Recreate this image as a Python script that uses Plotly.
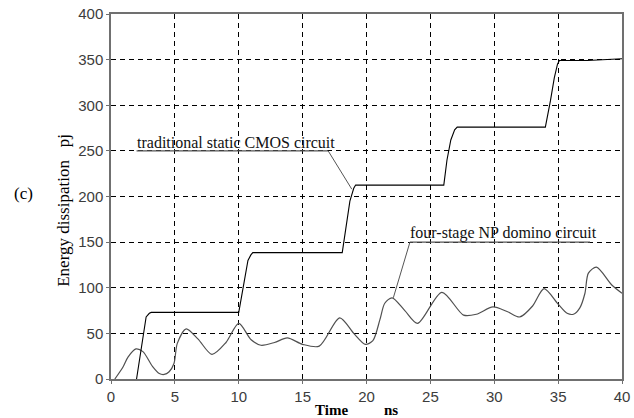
import plotly.graph_objects as go

# Time axis in ns, energy in pJ
cmos_t = [2.0, 2.4, 2.75, 3.0, 3.15, 10.0, 10.33, 10.72, 10.95, 11.1,
          18.1, 18.4, 18.7, 19.0, 19.15, 26.05, 26.3, 26.6, 26.9, 27.1,
          34.0, 34.4, 34.7, 34.95, 35.1, 37.3, 40.0]
cmos_e = [0, 35, 68, 72, 73, 73, 101, 130, 136, 138.5,
          138.5, 165, 195, 209, 212.5, 212.5, 240, 262, 273, 276,
          276, 305, 330, 345, 349, 349, 351]

domino_t = [0.3, 0.95, 1.33, 1.95, 2.5, 3.26, 3.78, 4.16, 4.55, 4.93, 5.19, 5.88,
            6.8, 7.9, 9.0, 10.0, 10.97, 11.74, 12.8, 13.8, 15.0, 16.3, 17.9, 19.0,
            19.9, 20.5, 21.05, 21.43, 22.0, 23.0, 24.0, 25.9, 27.6, 28.6, 29.9,
            31.0, 32.0, 33.0, 33.9, 35.0, 35.7, 36.2, 36.7, 37.1, 37.37, 38.0,
            39.2, 40.0]
domino_e = [0, 13.5, 24, 33, 30, 13.5, 6, 5, 8, 17, 39, 55,
            44, 27, 40, 61, 43, 37, 40, 45, 38, 36, 67, 50,
            38, 42, 65, 83, 89, 75, 61, 95, 70, 71, 79,
            74, 68, 80, 99, 82, 72, 71, 78, 94, 116, 122.5,
            103, 94]

x_ticks = [0, 5, 10, 15, 20, 25, 30, 35, 40]
y_ticks = [0, 50, 100, 150, 200, 250, 300, 350, 400]

# Callout geometry (data units): underline start/end, then leader tip
cmos_label = "traditional static CMOS circuit"
cmos_under_x = [2.0, 17.0]
cmos_under_y = 250
cmos_leader = [(17.0, 250), (18.85, 208)]

domino_label = "four-stage NP domino circuit"
domino_under_x = [23.4, 37.5]
domino_under_y = 150
domino_leader = [(23.4, 150), (22.1, 89)]

serif = "Liberation Serif, Times New Roman, serif"
sans = "Liberation Sans, Arial, sans-serif"

fig = go.Figure()

fig.add_trace(go.Scatter(
    x=domino_t, y=domino_e, mode="lines",
    line=dict(color="#505050", width=1.2, shape="spline", smoothing=0.8),
    showlegend=False, hoverinfo="skip"))

fig.add_trace(go.Scatter(
    x=cmos_t, y=cmos_e, mode="lines",
    line=dict(color="#000000", width=1.1),
    showlegend=False, hoverinfo="skip"))

callout_color = "#555555"
shapes = [
    dict(type="line", xref="x", yref="y",
         x0=cmos_under_x[0], x1=cmos_under_x[1], y0=cmos_under_y, y1=cmos_under_y,
         line=dict(color=callout_color, width=1.2)),
    dict(type="line", xref="x", yref="y",
         x0=cmos_leader[0][0], y0=cmos_leader[0][1], x1=cmos_leader[1][0], y1=cmos_leader[1][1],
         line=dict(color=callout_color, width=1)),
    dict(type="line", xref="x", yref="y",
         x0=domino_under_x[0], x1=domino_under_x[1], y0=domino_under_y, y1=domino_under_y,
         line=dict(color=callout_color, width=1.2)),
    dict(type="line", xref="x", yref="y",
         x0=domino_leader[0][0], y0=domino_leader[0][1], x1=domino_leader[1][0], y1=domino_leader[1][1],
         line=dict(color=callout_color, width=1)),
]

annotations = [
    dict(x=cmos_under_x[0], y=cmos_under_y, xref="x", yref="y", text=cmos_label,
         showarrow=False, xanchor="left", yanchor="bottom", yshift=-2, xshift=-2,
         font=dict(family=serif, size=16, color="#111111")),
    dict(x=domino_under_x[0], y=domino_under_y, xref="x", yref="y", text=domino_label,
         showarrow=False, xanchor="left", yanchor="bottom", yshift=-2, xshift=-2,
         font=dict(family=serif, size=16, color="#111111")),
    dict(x=-0.0944, y=0.463, xref="paper", yref="paper", text="Energy dissipation   pj",
         textangle=-90, showarrow=False, xanchor="center", yanchor="middle",
         font=dict(family=serif, size=17, color="#000000")),
    dict(x=-0.1715, y=0.507, xref="paper", yref="paper", text="(c)",
         showarrow=False, xanchor="center", yanchor="middle",
         font=dict(family=serif, size=17, color="#000000")),
    dict(x=0.4306, y=-0.085, xref="paper", yref="paper", text="<b>Time</b>",
         showarrow=False, xanchor="center", yanchor="middle",
         font=dict(family=serif, size=15, color="#000000")),
    dict(x=0.547, y=-0.085, xref="paper", yref="paper", text="<b>ns</b>",
         showarrow=False, xanchor="center", yanchor="middle",
         font=dict(family=serif, size=15, color="#000000")),
]

axis_common = dict(
    showgrid=True, gridcolor="#000000", griddash="5px,4px", gridwidth=1,
    showline=True, linecolor="#707070", linewidth=1.5, mirror=True,
    ticks="outside", ticklen=3, tickcolor="#707070",
    zeroline=False, ticklabeloverflow="allow",
    tickfont=dict(family=sans, size=15, color="#3c3c3c"),
)

fig.update_layout(
    width=634, height=418,
    margin=dict(l=111, r=4, t=14, b=39),
    paper_bgcolor="#ffffff", plot_bgcolor="#ffffff",
    xaxis=dict(range=[0, 40], tickvals=x_ticks, **axis_common),
    yaxis=dict(range=[0, 400], tickvals=y_ticks, **axis_common),
    shapes=shapes, annotations=annotations,
)

fig.write_html("out.html")
